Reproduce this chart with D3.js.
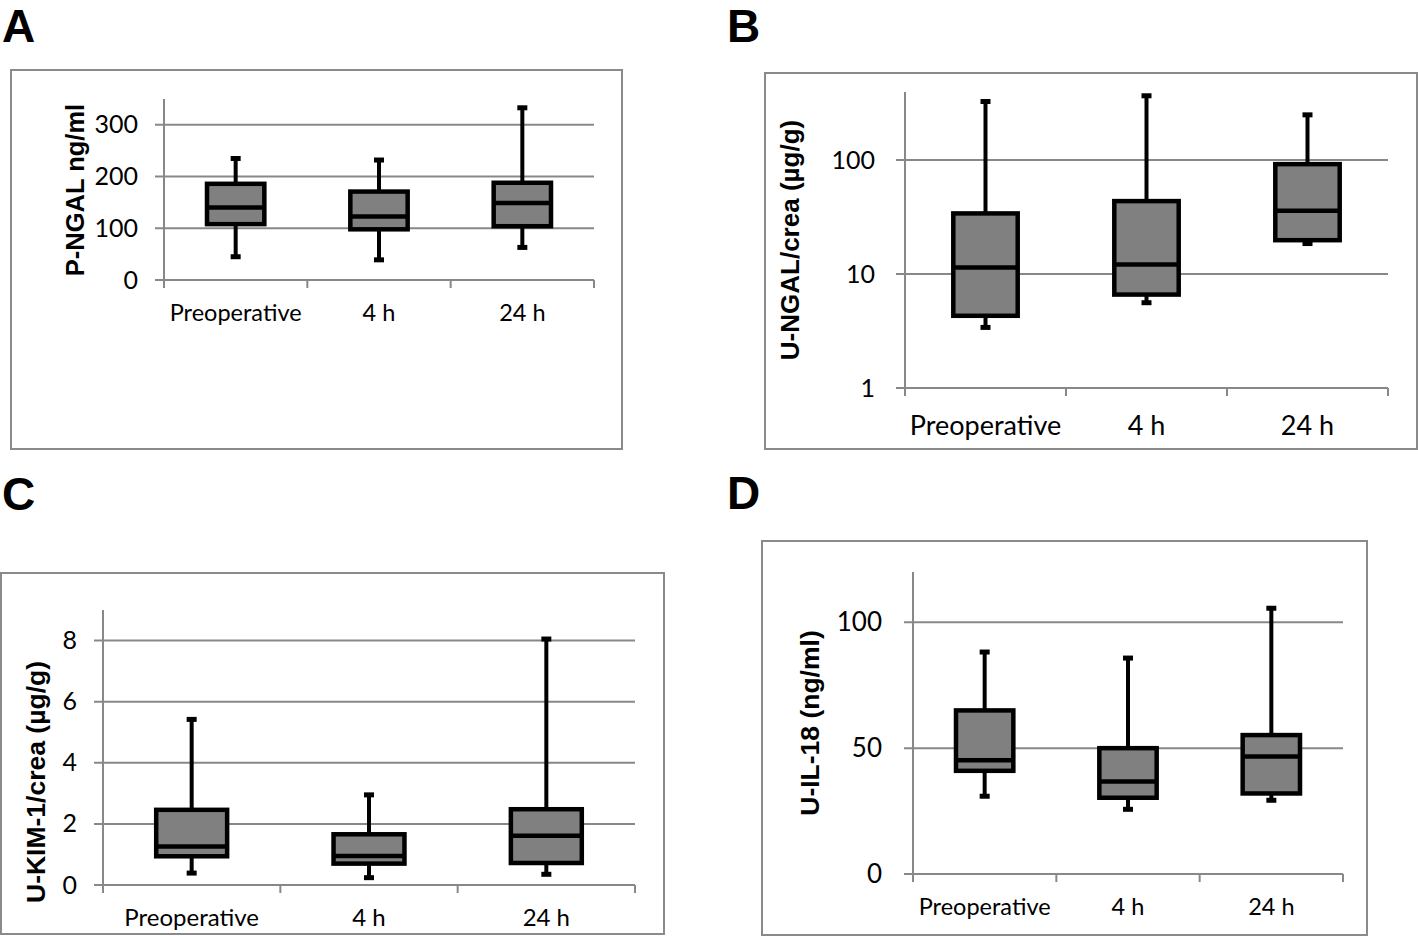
<!DOCTYPE html>
<html>
<head>
<meta charset="utf-8">
<script src="https://cdn.jsdelivr.net/npm/d3@7"></script>
<style>
  body { margin: 0; background: #fff; }
  text { fill: #000; }
</style>
</head>
<body>
<svg id="chart"></svg>
<script>
const categories = ["Preoperative", "4 h", "24 h"];

// A - plasma NGAL (ng/ml)
const pNgalMin = [45, 39, 63];
const pNgalQ1 = [108, 98, 104];
const pNgalMedian = [140, 123, 149];
const pNgalQ3 = [186, 171, 188];
const pNgalMax = [235, 232, 333];
const pNgalTicks = [0, 100, 200, 300];

// B - urine NGAL / creatinine (log axis)
const uNgalMin = [3.4, 5.6, 18.5];
const uNgalQ1 = [4.3, 6.6, 19.8];
const uNgalMedian = [11.4, 12.1, 35.8];
const uNgalQ3 = [34, 43.6, 92];
const uNgalMax = [326, 366, 249];
const uNgalTicks = [1, 10, 100];

// C - urine KIM-1 / creatinine
const kimMin = [0.39, 0.24, 0.35];
const kimQ1 = [0.94, 0.70, 0.72];
const kimMedian = [1.26, 0.95, 1.61];
const kimQ3 = [2.46, 1.66, 2.48];
const kimMax = [5.42, 2.95, 8.05];
const kimTicks = [0, 2, 4, 6, 8];

// D - urine IL-18
const il18Min = [30.9, 25.7, 29.3];
const il18Q1 = [41, 30.3, 32];
const il18Median = [45.2, 36.8, 46.7];
const il18Q3 = [65, 50, 55.2];
const il18Max = [88.2, 85.8, 105.6];
const il18Ticks = [0, 50, 100];

const width = 1418, height = 936;
const labelFont = "Lato, 'Open Sans', sans-serif";
const boldFont = "'Liberation Sans', Arial, sans-serif";

const svg = d3.select("#chart")
    .attr("width", width)
    .attr("height", height);

function rows(mins, q1s, meds, q3s, maxs) {
    return categories.map((c, i) => ({
        cat: c, min: mins[i], q1: q1s[i], med: meds[i], q3: q3s[i], max: maxs[i]
    }));
}

const panels = [
    {letter: "A", lx: 2, ly: 42, frame: [11, 70, 622, 449], plot: [164, 99, 594, 280],
     domain: [0, 350], log: false, ticks: pNgalTicks,
     title: "P-NGAL ng/ml", titleX: 75, titleY: 190, titleSize: 25.5,
     tickSize: 25, tickGap: 26, catSize: 23.5, catY: 321,
     data: rows(pNgalMin, pNgalQ1, pNgalMedian, pNgalQ3, pNgalMax)},
    {letter: "B", lx: 727, ly: 42, frame: [765, 73, 1417, 449], plot: [905, 92, 1388, 388],
     domain: [1, 395], log: true, ticks: uNgalTicks,
     title: "U-NGAL/crea (µg/g)", titleX: 790, titleY: 240, titleSize: 26,
     tickSize: 25, tickGap: 30, catSize: 27, catY: 435,
     data: rows(uNgalMin, uNgalQ1, uNgalMedian, uNgalQ3, uNgalMax)},
    {letter: "C", lx: 2, ly: 510, frame: [1, 573, 664, 934], plot: [103, 610, 635, 885],
     domain: [0, 9], log: false, ticks: kimTicks,
     title: "U-KIM-1/crea (µg/g)", titleX: 36, titleY: 782, titleSize: 26.5,
     tickSize: 25, tickGap: 26, catSize: 24, catY: 926,
     data: rows(kimMin, kimQ1, kimMedian, kimQ3, kimMax)},
    {letter: "D", lx: 727, ly: 509, frame: [762, 541, 1367, 935], plot: [913, 572, 1343, 874],
     domain: [0, 120], log: false, ticks: il18Ticks,
     title: "U-IL-18 (ng/ml)", titleX: 810, titleY: 723, titleSize: 26.5,
     tickSize: 26, tickGap: 31, catSize: 23.5, catY: 915,
     data: rows(il18Min, il18Q1, il18Median, il18Q3, il18Max)}
];

panels.forEach(p => {
    const g = svg.append("g");
    const [x0, y0, x1, y1] = p.plot;

    // panel letter
    g.append("text")
        .attr("x", p.lx).attr("y", p.ly)
        .attr("font-family", boldFont)
        .attr("font-weight", "bold")
        .attr("font-size", 46)
        .text(p.letter);

    // chart frame
    g.append("rect")
        .attr("x", p.frame[0]).attr("y", p.frame[1])
        .attr("width", p.frame[2] - p.frame[0])
        .attr("height", p.frame[3] - p.frame[1])
        .attr("fill", "none")
        .attr("stroke", "#8a8a8a")
        .attr("stroke-width", 2);

    const y = (p.log ? d3.scaleLog() : d3.scaleLinear())
        .domain(p.domain)
        .range([y1, y0]);

    const x = d3.scaleBand()
        .domain(categories)
        .range([x0, x1])
        .padding(0);

    // gridlines (the lowest one is the category axis)
    g.selectAll(".grid")
        .data(p.ticks)
        .enter()
        .append("line")
        .attr("x1", x0 - 9)
        .attr("x2", x1)
        .attr("y1", d => y(d))
        .attr("y2", d => y(d))
        .attr("stroke", "#888")
        .attr("stroke-width", 2);

    // value axis line
    g.append("line")
        .attr("x1", x0).attr("x2", x0)
        .attr("y1", y0).attr("y2", y1 + 8)
        .attr("stroke", "#888")
        .attr("stroke-width", 2);

    // category tick marks
    const bounds = categories.map(c => x(c)).concat([x1]);
    g.selectAll(".ctick")
        .data(bounds.slice(1))
        .enter()
        .append("line")
        .attr("x1", d => d).attr("x2", d => d)
        .attr("y1", y1).attr("y2", y1 + 8)
        .attr("stroke", "#888")
        .attr("stroke-width", 2);

    // value tick labels
    const yAxis = d3.axisLeft(y)
        .tickValues(p.ticks)
        .tickFormat(d3.format("d"))
        .tickSize(0)
        .tickPadding(p.tickGap);
    const ya = g.append("g")
        .attr("transform", `translate(${x0},0)`)
        .call(yAxis);
    ya.select(".domain").remove();
    ya.selectAll("text")
        .attr("font-family", labelFont)
        .attr("font-size", p.tickSize)
        .attr("fill", "#000");

    // category labels
    g.selectAll(".cat")
        .data(categories)
        .enter()
        .append("text")
        .attr("x", d => x(d) + x.bandwidth() / 2)
        .attr("y", p.catY)
        .attr("text-anchor", "middle")
        .attr("font-family", labelFont)
        .attr("font-size", p.catSize)
        .text(d => d);

    // axis title
    g.append("text")
        .attr("transform", `translate(${p.titleX},${p.titleY}) rotate(-90)`)
        .attr("text-anchor", "middle")
        .attr("dominant-baseline", "central")
        .attr("font-family", boldFont)
        .attr("font-weight", "bold")
        .attr("font-size", p.titleSize)
        .text(p.title);

    // boxes
    const boxW = x.bandwidth() * 0.4;
    const cx = d => x(d.cat) + x.bandwidth() / 2;
    const box = g.selectAll(".box")
        .data(p.data)
        .enter()
        .append("g");

    box.append("line")
        .attr("x1", cx).attr("x2", cx)
        .attr("y1", d => y(d.max)).attr("y2", d => y(d.q3))
        .attr("stroke", "#000").attr("stroke-width", 4);
    box.append("line")
        .attr("x1", cx).attr("x2", cx)
        .attr("y1", d => y(d.q1)).attr("y2", d => y(d.min))
        .attr("stroke", "#000").attr("stroke-width", 4);
    ["max", "min"].forEach(k => {
        box.append("line")
            .attr("x1", d => cx(d) - 5).attr("x2", d => cx(d) + 5)
            .attr("y1", d => y(d[k])).attr("y2", d => y(d[k]))
            .attr("stroke", "#000").attr("stroke-width", 5);
    });
    box.append("rect")
        .attr("x", d => cx(d) - boxW / 2)
        .attr("y", d => y(d.q3))
        .attr("width", boxW)
        .attr("height", d => y(d.q1) - y(d.q3))
        .attr("fill", "#808080")
        .attr("stroke", "#000")
        .attr("stroke-width", 4.5);
    box.append("line")
        .attr("x1", d => cx(d) - boxW / 2).attr("x2", d => cx(d) + boxW / 2)
        .attr("y1", d => y(d.med)).attr("y2", d => y(d.med))
        .attr("stroke", "#000").attr("stroke-width", 4.5);
});
</script>
</body>
</html>
